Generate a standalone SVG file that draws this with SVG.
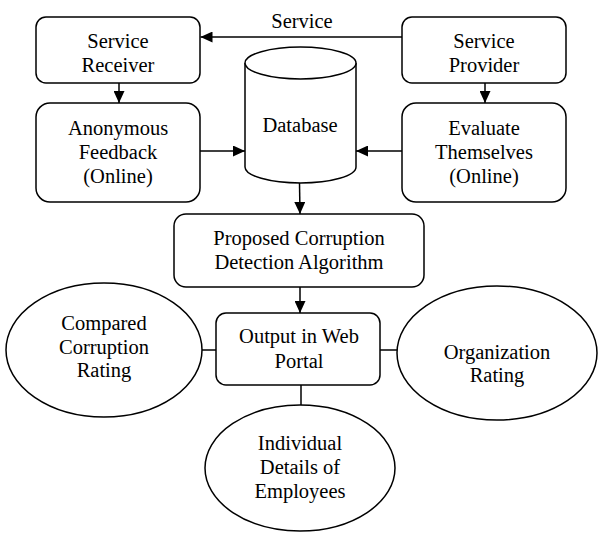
<svg xmlns="http://www.w3.org/2000/svg" width="608" height="535" viewBox="0 0 608 535">
<style>
.n{fill:#fff;stroke:#000;stroke-width:1.5}
.c{fill:none;stroke:#000;stroke-width:1.5}
text{font-family:"Liberation Serif","Times New Roman",serif;font-size:20.5px;fill:#000;text-anchor:middle}
</style>
<defs>
<marker id="a" markerWidth="12" markerHeight="11" refX="12" refY="5.5" orient="auto" markerUnits="userSpaceOnUse">
<path d="M0,0 L12,5.5 L0,11 Z" fill="#000"/>
</marker>
</defs>
<rect width="608" height="535" fill="#fff"/>
<g id="connectors">
<line class="c" x1="402" y1="37" x2="200.5" y2="37" marker-end="url(#a)"/>
<text x="302" y="28">Service</text>
<line class="c" x1="119" y1="83" x2="119" y2="103" marker-end="url(#a)"/>
<line class="c" x1="485" y1="83" x2="485" y2="103" marker-end="url(#a)"/>
<line class="c" x1="200" y1="151" x2="245" y2="151" marker-end="url(#a)"/>
<line class="c" x1="402" y1="151" x2="356" y2="151" marker-end="url(#a)"/>
<line class="c" x1="299.5" y1="183" x2="300" y2="214" marker-end="url(#a)"/>
<line class="c" x1="300" y1="287" x2="300" y2="313" marker-end="url(#a)"/>
<line class="c" x1="202" y1="350" x2="216" y2="350"/>
<line class="c" x1="380" y1="350" x2="397" y2="350"/>
<line class="c" x1="301" y1="385" x2="301" y2="405"/>
</g>
<g id="service-receiver">
<rect class="n" x="36" y="17" width="164" height="66" rx="10"/>
<text x="118" y="48">Service</text>
<text x="118" y="72">Receiver</text>
</g>
<g id="service-provider">
<rect class="n" x="402" y="17" width="164" height="66" rx="10"/>
<text x="484" y="48">Service</text>
<text x="484" y="72">Provider</text>
</g>
<g id="anonymous-feedback">
<rect class="n" x="36" y="103" width="164" height="99" rx="14"/>
<text x="118" y="135">Anonymous</text>
<text x="118" y="159">Feedback</text>
<text x="118" y="183">(Online)</text>
</g>
<g id="evaluate-themselves">
<rect class="n" x="402" y="103" width="164" height="99" rx="14"/>
<text x="484" y="135">Evaluate</text>
<text x="484" y="159">Themselves</text>
<text x="484" y="183">(Online)</text>
</g>
<g id="database">
<path class="n" d="M245,63 L245,167 A55.5,16 0 0 0 356,167 L356,63"/>
<ellipse class="n" cx="300.5" cy="63" rx="55.5" ry="16"/>
<text x="300" y="132">Database</text>
</g>
<g id="algorithm">
<rect class="n" x="174" y="214" width="250" height="73" rx="12"/>
<text x="299" y="245">Proposed Corruption</text>
<text x="299" y="269">Detection Algorithm</text>
</g>
<g id="output">
<rect class="n" x="216" y="313" width="164" height="72" rx="10"/>
<text x="299" y="343">Output in Web</text>
<text x="299" y="368">Portal</text>
</g>
<g id="compared-rating">
<ellipse class="n" cx="104" cy="350" rx="98" ry="67"/>
<text x="104" y="330">Compared</text>
<text x="104" y="354">Corruption</text>
<text x="104" y="377">Rating</text>
</g>
<g id="organization-rating">
<ellipse class="n" cx="497" cy="353" rx="100" ry="67"/>
<text x="497" y="359">Organization</text>
<text x="497" y="382">Rating</text>
</g>
<g id="individual-details">
<ellipse class="n" cx="300" cy="468" rx="95" ry="63"/>
<text x="300" y="450">Individual</text>
<text x="300" y="474">Details of</text>
<text x="300" y="498">Employees</text>
</g>
</svg>
